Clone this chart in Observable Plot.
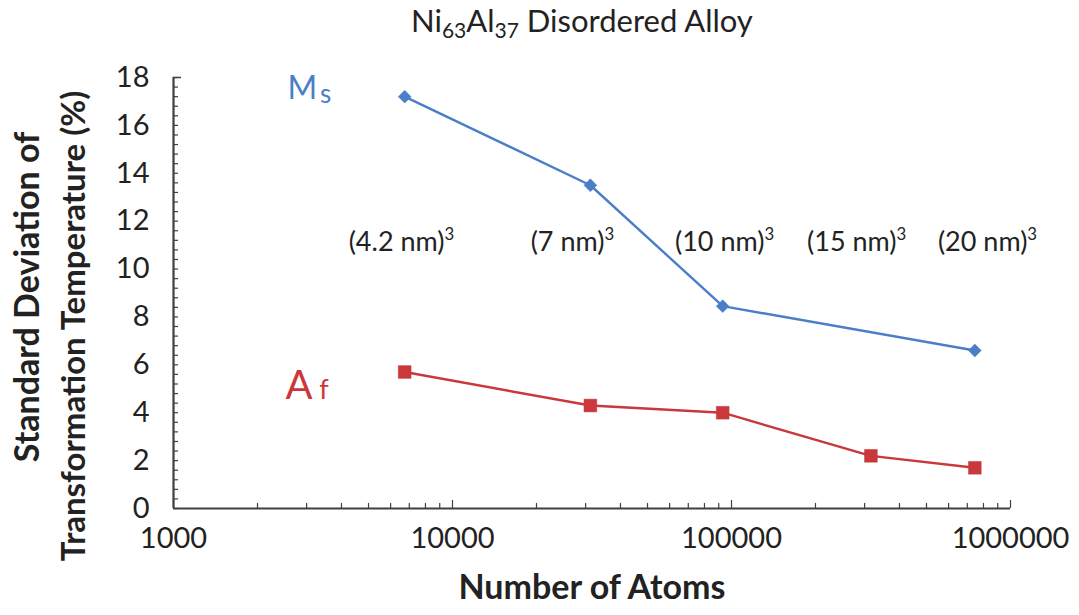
<!DOCTYPE html>
<html><head><meta charset="utf-8">
<script src="https://cdn.jsdelivr.net/npm/d3@7"></script>
<script src="https://cdn.jsdelivr.net/npm/@observablehq/plot@0.6"></script>
<style>
body{margin:0;background:#fff;font-family:Lato,sans-serif;}
#wrap{position:relative;width:1079px;height:615px;overflow:hidden;background:#fff;}
#title{position:absolute;left:0;top:0;width:1079px;height:40px;}
#title span{position:absolute;left:411px;top:5px;font-size:31px;color:#222;white-space:nowrap;line-height:30px;}
#title sub{font-size:21px;vertical-align:-6px;line-height:0;}
#chart{position:absolute;left:0;top:40px;}
</style></head><body>
<div id="wrap">
<div id="title"><span>Ni<sub>63</sub>Al<sub>37</sub> Disordered Alloy</span></div>
<div id="chart"></div>
</div>
<script>
// Data
const atomsMs = [6740, 31200, 93000, 745000];
const stdMs = [17.2, 13.5, 8.45, 6.6];
const atomsAf = [6740, 31200, 93000, 316000, 745000];
const stdAf = [5.7, 4.3, 4.0, 2.2, 1.7];
const sizeLabels = ["(4.2 nm)³", "(7 nm)³", "(10 nm)³", "(15 nm)³", "(20 nm)³"];
const sizeLabelX = [6560, 26900, 94400, 281000, 827000];
const sizeLabelY = 11.1;
const xTicks = [1000, 10000, 100000, 1000000];
const yTicks = [0, 2, 4, 6, 8, 10, 12, 14, 16, 18];

const blue = "#4a7fc8";
const red = "#c9383a";
const axisColor = "#404040";

const msData = atomsMs.map((a, i) => ({atoms: a, std: stdMs[i]}));
const afData = atomsAf.map((a, i) => ({atoms: a, std: stdAf[i]}));
const sizeData = sizeLabels.map((t, i) => ({text: t, x: sizeLabelX[i], y: sizeLabelY}));
const xMinor = [1000, 10000, 100000].flatMap(d => [2,3,4,5,6,7,8,9].map(k => k * d));
const yMinor = d3.range(0, 18.001, 0.4);

// square diamond symbol (rotated square)
const squareDiamond = {
  draw(context, size) {
    const h = Math.sqrt(size / Math.PI) * 1.15;
    context.moveTo(0, -h); context.lineTo(h, 0); context.lineTo(0, h); context.lineTo(-h, 0); context.closePath();
  }
};

const W = 1079, H = 575, mL = 173, mR = 69, mT = 37, mB = 107;
const frameW = W - mL - mR, frameH = H - mT - mB;

const chart = Plot.plot({
  width: W, height: H,
  marginLeft: mL, marginRight: mR, marginTop: mT, marginBottom: mB,
  style: {fontFamily: "Lato, sans-serif", color: "#222", background: "transparent", overflow: "visible"},
  x: {type: "log", domain: [1000, 1000000]},
  y: {domain: [0, 18]},
  marks: [
    Plot.axisX({ticks: xTicks, tickFormat: d3.format("d"), tickSize: 0, tickPadding: 19, fontSize: 29, label: null}),
    Plot.axisY({ticks: yTicks, tickSize: 0, tickPadding: 24, fontSize: 29, label: null}),
    Plot.ruleX(xMinor, {x: d => d, insetTop: frameH - 5, stroke: axisColor, strokeWidth: 1.2}),
    Plot.ruleX(xTicks, {x: d => d, insetTop: frameH - 8, stroke: axisColor, strokeWidth: 1.2}),
    Plot.ruleY(yMinor, {y: d => d, insetRight: frameW - 5, stroke: axisColor, strokeWidth: 1.2}),
    Plot.ruleY([18], {y: d => d, insetRight: frameW - 8, stroke: axisColor, strokeWidth: 1.5}),
    Plot.ruleX([1000], {x: d => d, stroke: axisColor, strokeWidth: 2.2}),
    Plot.ruleY([0], {y: d => d, stroke: axisColor, strokeWidth: 2.2}),
    Plot.line(msData, {x: "atoms", y: "std", stroke: blue, strokeWidth: 2.4}),
    Plot.dot(msData, {x: "atoms", y: "std", symbol: squareDiamond, r: 5.6, fill: blue, stroke: blue, strokeWidth: 0.5}),
    Plot.line(afData, {x: "atoms", y: "std", stroke: red, strokeWidth: 2.4}),
    Plot.dot(afData, {x: "atoms", y: "std", symbol: "square", r: 7.2, fill: red, stroke: red, strokeWidth: 0.5}),
    Plot.text(sizeData, {x: "x", y: "y", text: "text", fontSize: 27, fill: "#222"}),
    Plot.text(["M"], {x: 2560, y: 17.55, text: d => d, textAnchor: "start", fontSize: 32, fill: blue}),
    Plot.text(["s"], {x: 3350, y: 17.3, text: d => d, textAnchor: "start", fontSize: 26, fill: blue}),
    Plot.text(["A"], {x: 2520, y: 5.1, text: d => d, textAnchor: "start", fontSize: 40, fill: red}),
    Plot.text(["f"], {x: 3330, y: 4.95, text: d => d, textAnchor: "start", fontSize: 27, fill: red}),
    Plot.text(["Standard Deviation of"], {frameAnchor: "left", textAnchor: "middle", dx: -145, dy: 4, rotate: -90, text: d => d, fontSize: 34, fontWeight: 700, fill: "#222"}),
    Plot.text(["Transformation Temperature (%)"], {frameAnchor: "left", textAnchor: "middle", dx: -99, dy: 33, rotate: -90, text: d => d, fontSize: 33, fontWeight: 700, fill: "#222"}),
    Plot.text(["Number of Atoms"], {frameAnchor: "bottom", textAnchor: "middle", dy: 90, text: d => d, fontSize: 34, fontWeight: 700, fill: "#222"})
  ]
});

// render "³" as a real superscript
d3.select(chart).selectAll("text").each(function() {
  const t = this.textContent;
  if (t.includes("³")) {
    const base = t.replace("³", "");
    const sel = d3.select(this);
    sel.text(base);
    sel.append("tspan").attr("font-size", "0.62em").attr("dy", "-0.7em").text("3");
  }
});

document.getElementById("chart").appendChild(chart);
</script>
</body></html>
